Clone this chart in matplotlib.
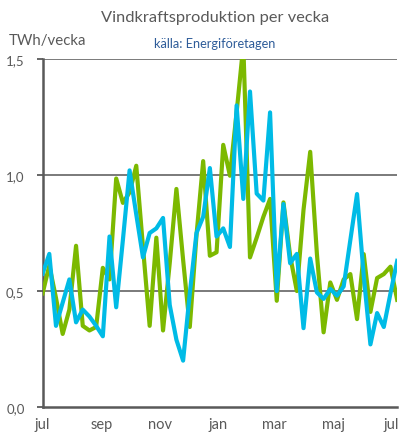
import matplotlib
matplotlib.use("Agg")
import matplotlib.pyplot as plt

# weekly wind power production, TWh/week, two consecutive seasons (jul -> jul)
green_vals = [0.49, 0.61, 0.47, 0.315, 0.42, 0.695, 0.35, 0.33, 0.345, 0.60,
              0.55, 0.985, 0.88, 0.925, 1.04, 0.69, 0.35, 0.73, 0.33, 0.62,
              0.94, 0.635, 0.345, 0.74, 1.06, 0.652, 0.667, 1.13, 0.997, 1.27,
              1.56, 0.645, 0.73, 0.82, 0.897, 0.458, 0.882, 0.652, 0.50, 0.85,
              1.10, 0.66, 0.322, 0.537, 0.462, 0.55, 0.573, 0.379, 0.659, 0.41,
              0.556, 0.573, 0.605, 0.462]
cyan_vals = [0.575, 0.66, 0.35, 0.45, 0.55, 0.365, 0.42, 0.39, 0.35, 0.305,
             0.735, 0.43, 0.72, 1.02, 0.83, 0.645, 0.75, 0.77, 0.815, 0.44,
             0.29, 0.2, 0.49, 0.75, 0.82, 1.03, 0.735, 0.77, 0.69, 1.30,
             0.897, 1.36, 0.92, 0.89, 1.27, 0.50, 0.875, 0.62, 0.66, 0.34,
             0.64, 0.494, 0.466, 0.509, 0.48, 0.52, 0.72, 0.918, 0.566, 0.27,
             0.405, 0.345, 0.49, 0.63]

# month ticks in days from 1 jul
month_days = [0, 62, 123, 184, 243, 304, 365]
month_labels = ["jul", "sep", "nov", "jan", "mar", "maj", "jul"]
y_ticks = [0.0, 0.5, 1.0, 1.5]
y_labels = ["0,0", "0,5", "1,0", "1,5"]

plt.rcParams['font.family'] = ['Lato', 'DejaVu Sans']
grey = "#595959"

fig = plt.figure(figsize=(4.02, 4.35), dpi=100)
ax = fig.add_axes([0.106, 0.062, 0.882, 0.800])

weeks_g = [i for i in range(len(green_vals))]
weeks_c = [i for i in range(len(cyan_vals))]
ax.plot(weeks_g, green_vals, color="#7cb900", lw=3.0, solid_joinstyle="round", zorder=3)
ax.plot(weeks_c, cyan_vals, color="#00bbe6", lw=3.0, solid_joinstyle="round", zorder=4)

ax.set_xlim(0, 53)
ax.set_ylim(0, 1.5)

for v in y_ticks[1:]:
    ax.axhline(v, color="#6f6f6f", lw=1.3, zorder=2)

ax.set_yticks(y_ticks)
ax.set_yticklabels(y_labels)
ax.set_xticks([d / 7.0 for d in month_days])
ax.set_xticklabels(month_labels)
ax.tick_params(axis="y", direction="out", length=4, width=1.3, color=grey,
               labelcolor=grey, labelsize=9.5, pad=9)
ax.tick_params(axis="x", length=0, labelcolor=grey, labelsize=10.5, pad=7)

for s in ["top", "right"]:
    ax.spines[s].set_visible(False)
ax.spines["left"].set_color(grey)
ax.spines["left"].set_linewidth(1.8)
ax.spines["bottom"].set_color(grey)
ax.spines["bottom"].set_linewidth(1.8)

fig.text(0.535, 0.958, "Vindkraftsproduktion per vecka", ha="center", va="center",
         fontsize=11.8, color=grey)
fig.text(0.535, 0.900, "källa: Energiföretagen", ha="center", va="center",
         fontsize=9.2, color="#2e5c99")
fig.text(0.022, 0.906, "TWh/vecka", ha="left", va="center", fontsize=10.8, color=grey)

fig.savefig("out.png", dpi=100)
